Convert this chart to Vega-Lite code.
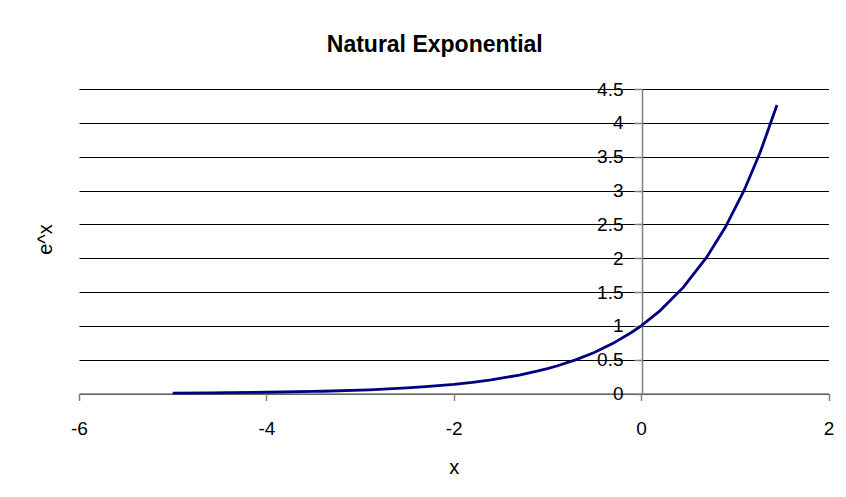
{
  "$schema": "https://vega.github.io/schema/vega-lite/v6.json",
  "width": 749.5,
  "height": 304.5,
  "autosize": {"type": "none"},
  "padding": {"left": 79, "top": 89, "right": 17.5, "bottom": 103.5},
  "background": "white",
  "config": {
    "view": {"stroke": null},
    "font": "Liberation Sans"
  },
  "title": {
    "text": "Natural Exponential",
    "font": "Liberation Sans",
    "fontSize": 23,
    "fontWeight": "bold",
    "color": "#000000",
    "anchor": "middle",
    "dx": -19,
    "baseline": "alphabetic",
    "offset": 5
  },
  "data": {
    "values": [
      {"x": -5.0, "y": 0.0067},
      {"x": -4.6, "y": 0.0101},
      {"x": -4.4, "y": 0.0123},
      {"x": -4.0, "y": 0.0183},
      {"x": -3.5, "y": 0.0302},
      {"x": -3.4, "y": 0.0334},
      {"x": -2.9, "y": 0.0550},
      {"x": -2.8, "y": 0.0608},
      {"x": -2.5, "y": 0.0821},
      {"x": -2.3, "y": 0.1003},
      {"x": -2.0, "y": 0.1353},
      {"x": -1.8, "y": 0.1653},
      {"x": -1.6, "y": 0.2019},
      {"x": -1.3, "y": 0.2725},
      {"x": -1.1, "y": 0.3329},
      {"x": -1.0, "y": 0.3679},
      {"x": -0.9, "y": 0.4066},
      {"x": -0.7, "y": 0.4966},
      {"x": -0.5, "y": 0.6065},
      {"x": -0.3, "y": 0.7408},
      {"x": -0.1, "y": 0.9048},
      {"x": 0.0, "y": 1.0},
      {"x": 0.2, "y": 1.2214},
      {"x": 0.45, "y": 1.5683},
      {"x": 0.7, "y": 2.0138},
      {"x": 0.9, "y": 2.4596},
      {"x": 1.1, "y": 3.0042},
      {"x": 1.27, "y": 3.5609},
      {"x": 1.45, "y": 4.2631}
    ]
  },
  "mark": {"type": "line", "color": "#000080", "strokeWidth": 2.8, "clip": false},
  "encoding": {
    "x": {
      "field": "x",
      "type": "quantitative",
      "scale": {"domain": [-6, 2], "nice": false, "zero": false},
      "axis": {
        "title": "x",
        "values": [-6, -4, -2, 0, 2],
        "labelExpr": "toString(datum.value)",
        "grid": false,
        "domainColor": "#808080",
        "domainWidth": 1.5,
        "tickColor": "#808080",
        "tickWidth": 1.5,
        "tickSize": 7,
        "labelPadding": 19,
        "labelFont": "Liberation Sans",
        "labelFontSize": 19,
        "labelColor": "#000000",
        "labelFlush": false,
        "titleFont": "Liberation Sans",
        "titleFontSize": 20,
        "titleFontWeight": "normal",
        "titleColor": "#000000",
        "titleBaseline": "alphabetic",
        "titleY": 79.5
      }
    },
    "y": {
      "field": "y",
      "type": "quantitative",
      "scale": {"domain": [0, 4.5], "nice": false},
      "axis": {
        "title": "e^x",
        "offset": -563,
        "values": [0, 0.5, 1, 1.5, 2, 2.5, 3, 3.5, 4, 4.5],
        "labelExpr": "toString(datum.value)",
        "grid": true,
        "gridColor": "#000000",
        "gridWidth": 1,
        "gridOpacity": 1,
        "domainColor": "#808080",
        "domainWidth": 1.5,
        "tickColor": "#808080",
        "tickWidth": 1.5,
        "tickSize": 8,
        "labelPadding": 11,
        "labelFont": "Liberation Sans",
        "labelFontSize": 19,
        "labelColor": "#000000",
        "labelFlush": false,
        "titleFont": "Liberation Sans",
        "titleFontSize": 20,
        "titleFontWeight": "normal",
        "titleColor": "#000000",
        "titleAngle": -90,
        "titleBaseline": "middle",
        "titleAlign": "center",
        "titleX": -597,
        "titleY": 150
      }
    }
  }
}
